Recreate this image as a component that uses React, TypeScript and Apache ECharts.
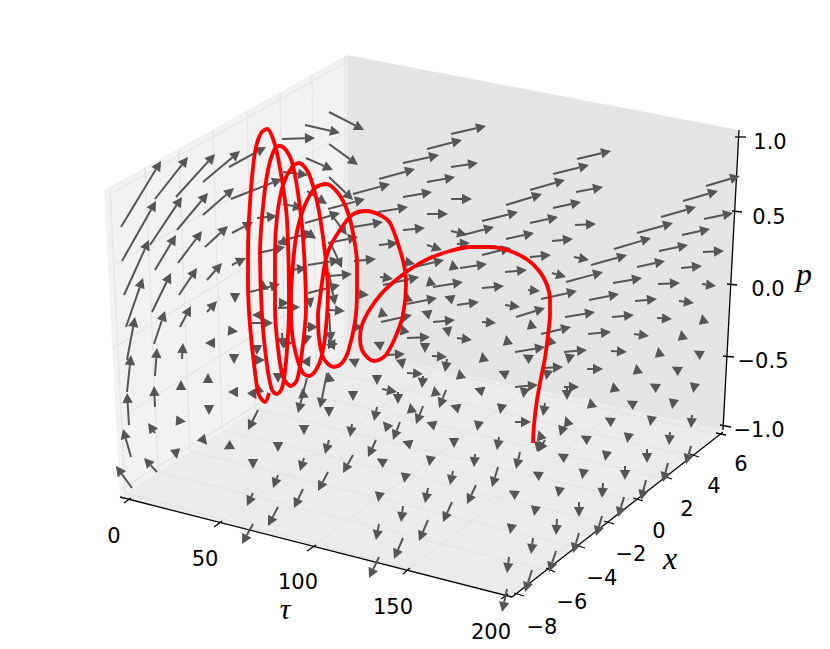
import React, { useEffect, useRef } from "react";
import * as echarts from "echarts";

const tauTicks = ["0", "50", "100", "150", "200"];
const xTicks = ["−8", "−6", "−4", "−2", "0", "2", "4", "6"];
const pTicks = ["1.0", "0.5", "0.0", "−0.5", "−1.0"];

const tauTickMarks = [[124,503,131,498],[214,527,222,521],[307,551,316,545],[403,574,410,568],[501,599,508,594]];
const xTickMarks = [[514,593,524,596],[546,568,555,572],[575,545,585,548],[604,521,614,524],[633,498,643,501],[662,476,672,479],[690,454,699,457],[716,433,726,435]];
const pTickMarks = [[735,137,746,137],[732,211,742,212],[727,284,737,285],[723,356,734,357],[720,425,731,427]];
const tauLabelPos = [[114,536],[205,559],[298,582],[393,607],[491,632]];
const xLabelPos = [[542,627],[572,602],[602,578],[631,554],[659,531],[687,509],[714,486],[741,464]];
const pLabelPos = [[770,142],[769,217],[768,289],[763,361],[759,430]];

const leftPane = [[104,190],[347,55],[347,350],[120,497]];
const backPane = [[347,55],[739,130],[723,430],[347,350]];
const floorPane = [[120,497],[347,350],[723,430],[512,597]];
const spines = [[120,497,512,597],[512,597,723,432],[739,130,723,430]];

const leftWallGrid = [[110,187,125,493],[145,168,158,472],[179,149,190,451],[213,130,222,430],[247,111,255,409],[280,92,285,389],[312,75,316,369],[345,56,345,350],[105,197,347,62],[108,268,345,133],[113,348,345,206],[117,420,345,278],[120,490,345,350]];
const floorGrid = [[125,493,512,597],[158,472,546,570],[190,451,575,547],[222,430,604,523],[255,409,633,500],[285,389,662,478],[316,369,690,456],[345,350,716,434],[218,524,435,369],[311,548,527,388],[406,571,621,407],[505,597,716,427]];

// tail x, tail y, tip x, tip y
const leftWallArrows = [
[121,227,161,161],[122,261,156,201],[124,295,149,240],[126,327,143,278],[127,360,135,317],[127,392,131,355],[129,425,127,393],[131,457,123,429],[132,488,116,466],
[155,270,176,235],[150,245,182,197],[155,199,188,157],[152,312,171,273],[154,344,165,311],[155,376,157,348],[155,407,154,386],[155,433,148,423],[157,472,144,458],
[176,197,215,154],[177,230,208,193],[178,263,202,231],[179,295,197,268],[180,327,191,306],[182,359,183,343],
[203,182,240,151],[203,215,234,188],[205,247,228,226],[207,280,222,263],[207,312,217,301],
[229,167,266,147],[231,199,282,179],[232,233,253,222],[232,265,246,258],[258,410,248,430],
[282,139,315,138],[283,172,308,175],[283,204,303,208],[257,218,277,216],[258,253,285,247],[305,125,340,133],[306,158,333,170],[307,191,327,204],
[329,112,364,130],[329,144,358,165],[329,177,353,200],[330,213,347,235],[330,242,342,268],[329,273,335,305],[329,313,331,342],[327,373,320,408],[307,378,298,413],
[305,223,340,213],[278,242,313,232],[308,265,340,260],[290,270,307,268],[250,292,280,284],[252,323,273,323],[278,308,300,307],[308,293,340,285],[307,327,318,327],[282,333,283,348],[282,343,293,343],[255,360,265,360],
];
const centreArrows = [
[451,134,486,126],[427,149,462,140],[403,163,439,155],[379,179,415,169],[353,194,390,184],[328,209,365,199],
[451,167,478,163],[427,182,455,177],[403,197,432,192],[378,212,408,207],[353,227,383,222],[328,243,358,237],
[451,199,472,199],[427,214,448,214],[403,230,425,228],[379,245,398,243],[354,261,376,259],
[451,231,467,235],[427,245,442,250],[463,235,494,227],[506,205,542,194],[482,221,518,212],[506,239,534,233],[482,255,511,248],
[410,268,444,260],[460,268,487,264],[457,244,470,243],[406,262,415,264],
[330,276,352,274],[357,294,369,295],[329,310,345,311],[380,277,393,279],[383,285,419,277],[433,287,463,282],[407,304,437,298],[381,322,412,315],[457,305,479,302],[433,322,455,320],[482,288,504,286],[482,322,496,323],[505,305,520,307],[528,290,540,291],[407,338,430,337],[457,338,472,340],[387,355,405,354],[432,356,447,357],[407,373,423,374],[382,389,397,392],[516,317,545,308],[515,352,545,347],[515,387,538,385],[515,422,531,422],[505,272,527,270],
];
const rightArrows = [
[577,159,611,151],[553,174,589,165],[530,190,565,180],[576,192,603,187],[553,208,581,202],[530,223,558,217],[575,225,596,224],[552,241,573,239],[530,257,551,255],[574,257,589,260],[552,273,566,277],
[706,186,740,176],[683,201,718,191],[661,217,696,207],[637,233,673,223],[614,249,651,238],[591,265,627,255],[566,282,603,272],
[704,219,733,213],[682,235,710,229],[659,251,688,245],[637,267,665,261],[613,283,642,278],[703,252,724,251],[681,268,702,266],[658,284,680,283],[702,284,716,286],
[589,300,619,294],[565,317,595,312],[541,334,571,327],[541,299,577,291],[635,301,657,299],[679,301,694,303],[612,317,634,315],[657,318,672,319],[588,334,611,332],[634,334,649,336],[564,352,587,350],[611,351,627,352],[587,369,603,369],[543,368,563,367],[564,387,579,387],
];
const floorArrows = [
[329,440,325,454],[304,458,300,471],[278,475,273,488],[253,493,247,506],[328,472,318,491],[303,489,294,508],[278,507,268,526],[253,524,242,544],
[376,440,368,457],[400,422,393,440],[352,424,350,437],[377,407,374,421],[423,406,416,424],[446,390,439,408],[398,392,398,404],[447,359,445,372],[423,376,422,388],
[692,415,691,428],[670,432,669,445],[567,388,567,400],[545,403,543,416],[563,427,560,436],[545,440,538,452],
[499,437,497,450],[520,452,516,469],[498,467,492,487],[539,443,537,452],[647,449,647,463],[691,446,686,464],[625,466,625,480],[668,463,663,482],[603,483,602,498],[646,480,641,500],[579,502,579,517],[624,497,618,517],[557,519,556,535],[602,516,596,536],[533,538,531,554],[579,533,573,553],[509,557,507,573],[556,551,549,572],[532,570,525,592],[507,589,502,612],
[353,455,343,473],[475,454,474,467],[453,471,450,485],[476,485,467,504],[428,488,425,503],[403,506,401,522],[379,524,376,540],[452,502,443,522],[428,520,419,541],[403,538,394,559],[379,557,369,578],
];
// centre x, centre y, heading in degrees (screen sense): arrows too short to show a shaft
const headOnlyArrows = [
[181,385,-90],[181,421,5],[176,454,80],[210,343,180],[208,378,-90],[209,410,90],[204,441,50],[228,447,150],
[233,331,5],[235,298,90],[234,359,90],[233,392,180],[253,464,90],[278,447,90],[304,430,90],[303,393,-95],[329,377,-100],[329,412,90],
[263,285,-95],[257,315,180],[284,303,0],[310,303,80],[306,340,100],[333,344,0],[257,350,90],[278,378,90],[308,360,-60],[258,388,-100],[254,395,60],[312,236,35],[285,243,35],
[377,380,90],[353,396,90],[386,425,-130],[411,408,-100],[435,391,-100],[460,374,-100],[483,357,-100],[507,340,-100],[531,324,-100],[425,348,90],[402,364,80],[448,332,80],[403,329,-110],[426,313,-160],[449,298,-160],[430,281,-100],[382,312,-100],[407,297,-100],[378,344,-155],[353,361,-155],[358,327,0],[333,343,-60],[527,357,-150],[503,373,-155],[479,390,-160],[455,407,-160],[431,424,-160],[524,393,100],[501,409,100],[478,426,100],[453,265,-100],[454,443,90],[407,443,-160],
[703,319,-100],[682,335,-100],[659,352,-100],[698,353,-150],[637,369,-100],[676,369,-150],[614,387,-100],[654,386,-150],[694,388,100],[591,403,-100],[631,403,-150],[673,404,100],[567,421,-110],[609,420,-150],[651,421,100],[585,438,-150],[628,438,100],[569,359,100],[550,340,-110],[547,375,100],
[540,435,-110],[562,456,-150],[537,474,-150],[606,456,100],[583,474,100],[513,493,-150],[559,492,100],[535,511,100],[511,529,100],[381,461,-150],[430,461,100],[405,478,100],[379,497,100],
];

const trajectoryX = [533,534,537,541,545,548,550,550,547,540,528,510,490,470,450,430,412,396,382,370,362,360,362,368,374,385,395,403,406,405,400,390,380,366,352,340,330,325,320,318,319,323,328,334,342,348,355,357,357,353,347,338,326,315,305,298,294,291,292,297,303,309,316,322,326,328,325,320,315,308,299,292,283,277,275,275,278,283,291,297,302,306,303,298,292,286,280,275,268,263,260,262,267,272,277,282,286,289,287,282,275,267,261,255,250,248,248,250,255,259,265,269];
const trajectoryY = [443,425,400,378,358,335,315,300,285,272,260,251,247,247,251,258,268,280,293,309,325,338,350,358,361,356,338,315,285,270,250,223,215,211,215,230,247,263,298,315,338,357,364,367,363,352,322,292,263,233,210,193,184,188,205,227,253,298,332,358,373,376,370,355,328,292,253,217,193,172,163,167,185,217,253,308,348,377,386,380,352,308,237,193,162,150,146,148,170,207,253,315,365,390,394,388,362,308,220,180,145,129,133,152,203,253,285,325,372,395,402,393];

const AXIS_W = 830, AXIS_H = 649;
const FONT = "'DejaVu Sans'";

function lineSeries(name: string, segs: number[][], color: string, width: number, z: number) {
  return {
    name, type: "custom", coordinateSystem: "cartesian2d", silent: true, z, clip: false,
    data: segs,
    renderItem: (_: any, api: any) => {
      const a = api.coord([api.value(0), api.value(1)]);
      const b = api.coord([api.value(2), api.value(3)]);
      return { type: "line", shape: { x1: a[0], y1: a[1], x2: b[0], y2: b[1] }, style: { stroke: color, lineWidth: width, fill: null } };
    },
    encode: { x: [0, 2], y: [1, 3] },
  };
}
function paneSeries(name: string, pts: number[][], color: string) {
  return {
    name, type: "custom", coordinateSystem: "cartesian2d", silent: true, z: 1, clip: false,
    data: [pts.flat()],
    renderItem: (_: any, api: any) => {
      const points = pts.map((_p, i) => api.coord([api.value(2 * i), api.value(2 * i + 1)]));
      return { type: "polygon", shape: { points }, style: { fill: color, stroke: null } };
    },
  };
}
function head(tip: number[], ang: number, len = 10, hw = 5.2) {
  const c = Math.cos(ang), s = Math.sin(ang);
  const bx = tip[0] - c * len, by = tip[1] - s * len;
  return { points: [tip, [bx - s * hw, by + c * hw], [bx + s * hw, by - c * hw]], base: [bx, by] };
}
const ARROW = "#555555";
function arrowSeries(name: string, data: number[][]) {
  return {
    name, type: "custom", coordinateSystem: "cartesian2d", silent: true, z: 4, clip: false,
    data,
    renderItem: (_: any, api: any) => {
      const a = api.coord([api.value(0), api.value(1)]);
      const b = api.coord([api.value(2), api.value(3)]);
      const h = head(b, Math.atan2(b[1] - a[1], b[0] - a[0]));
      return {
        type: "group",
        children: [
          { type: "line", shape: { x1: a[0], y1: a[1], x2: h.base[0], y2: h.base[1] }, style: { stroke: ARROW, lineWidth: 2 } },
          { type: "polygon", shape: { points: h.points }, style: { fill: ARROW } },
        ],
      };
    },
    encode: { x: [0, 2], y: [1, 3] },
  };
}
function headSeries(name: string, data: number[][]) {
  return {
    name, type: "custom", coordinateSystem: "cartesian2d", silent: true, z: 4, clip: false,
    data,
    renderItem: (_: any, api: any) => {
      const c = api.coord([api.value(0), api.value(1)]);
      const ang = (api.value(2) * Math.PI) / 180;
      const tip = [c[0] + Math.cos(ang) * 5, c[1] + Math.sin(ang) * 5];
      return { type: "polygon", shape: { points: head(tip, ang).points }, style: { fill: ARROW } };
    },
    encode: { x: 0, y: 1 },
  };
}
function textSeries(name: string, labels: string[], pos: number[][], font: string) {
  return {
    name, type: "custom", coordinateSystem: "cartesian2d", silent: true, z: 6, clip: false,
    data: pos.map((p, i) => [p[0], p[1], i]),
    renderItem: (_: any, api: any) => {
      const c = api.coord([api.value(0), api.value(1)]);
      return { type: "text", x: c[0], y: c[1], style: { text: labels[api.value(2)], font, fill: "#000", align: "center", verticalAlign: "middle" } };
    },
    encode: { x: 0, y: 1 },
  };
}

export default function App() {
  const ref = useRef<HTMLDivElement>(null);
  useEffect(() => {
    const chart = echarts.init(ref.current!, undefined, { renderer: "svg" });
    chart.setOption({
      animation: false,
      backgroundColor: "#ffffff",
      grid: { left: 0, right: 0, top: 0, bottom: 0 },
      xAxis: { type: "value", min: 0, max: AXIS_W, show: false },
      yAxis: { type: "value", min: 0, max: AXIS_H, inverse: true, show: false },
      series: [
        paneSeries("left wall", leftPane, "#f2f2f2"),
        paneSeries("back wall", backPane, "#e5e5e5"),
        paneSeries("floor", floorPane, "#ececec"),
        lineSeries("wall grid", leftWallGrid, "#e5e5e5", 1.3, 2),
        lineSeries("floor grid", floorGrid, "#e5e5e5", 1.3, 2),
        lineSeries("spines", spines, "#000000", 1.3, 3),
        lineSeries("tau ticks", tauTickMarks, "#000000", 1.3, 3),
        lineSeries("x ticks", xTickMarks, "#000000", 1.3, 3),
        lineSeries("p ticks", pTickMarks, "#000000", 1.3, 3),
        arrowSeries("left wall arrows", leftWallArrows),
        arrowSeries("centre arrows", centreArrows),
        arrowSeries("right arrows", rightArrows),
        arrowSeries("floor arrows", floorArrows),
        headSeries("short arrows", headOnlyArrows),
        {
          name: "trajectory", type: "line", showSymbol: false, silent: true, z: 5, clip: false, smooth: 0.3,
          data: trajectoryX.map((x, i) => [x, trajectoryY[i]]),
          lineStyle: { color: "#ff0000", width: 3.8 },
        },
        textSeries("tau labels", tauTicks, tauLabelPos, `21px ${FONT}`),
        textSeries("x labels", xTicks, xLabelPos, `21px ${FONT}`),
        textSeries("p labels", pTicks, pLabelPos, `21px ${FONT}`),
        textSeries("tau title", ["τ"], [[285, 608]], "italic 30px 'Liberation Serif'"),
        textSeries("x title", ["x"], [[670, 558]], "italic 32px 'Liberation Serif'"),
        textSeries("p title", ["p"], [[804, 274]], "italic 32px 'Liberation Serif'"),
      ],
    });
    return () => chart.dispose();
  }, []);
  return <div ref={ref} style={{ position: "fixed", left: 0, top: 0, width: AXIS_W, height: AXIS_H }} />;
}
